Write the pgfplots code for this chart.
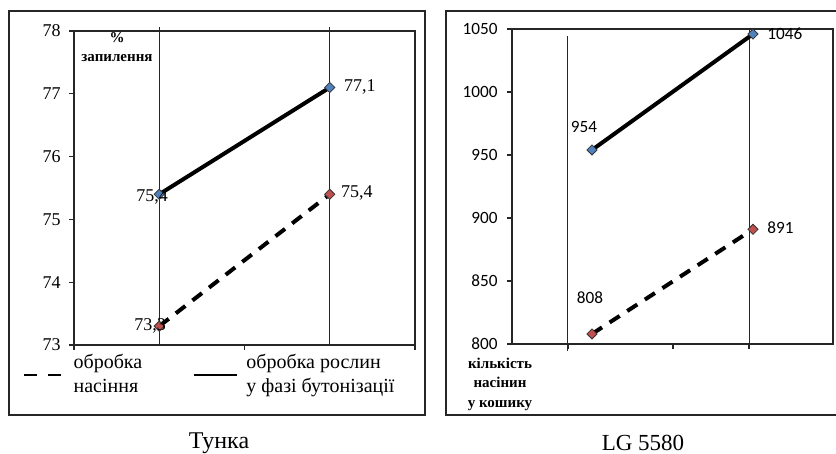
\documentclass[border=0pt]{standalone}
\usepackage{fontspec}
\setmainfont{Liberation Serif}
\newfontfamily\carlito{Carlito}
\usepackage{pgfplots}
\pgfplotsset{compat=1.18}

\definecolor{mblue}{HTML}{4F81BD}
\definecolor{mred}{HTML}{C0504D}
\definecolor{axgray}{HTML}{262626}

\pgfplotsset{
  myaxis/.style={
    scale only axis, anchor=south west, clip=false,
    tick pos=left, tick align=outside, major tick length=2.5pt,
    axis line style={axgray, line width=0.7pt},
    major tick style={axgray, line width=0.6pt},
    xticklabels={},
    /pgf/number format/assume math mode=true,
    /pgf/number format/1000 sep={},
  },
  lblT/.style n args={3}{draw=none, mark=none, forget plot, point meta=y,
    nodes near coords={\pgfmathprintnumber[fixed, fixed zerofill, precision=1, use comma]{\pgfplotspointmeta}},
    every node near coord/.append style={anchor=#1, xshift=#2pt, yshift=#3pt, inner sep=0pt, text=black, font=\fontsize{9}{10}\selectfont}},
  lblL/.style n args={3}{draw=none, mark=none, forget plot, point meta=y,
    nodes near coords={\pgfmathprintnumber[fixed, precision=0, 1000 sep={}]{\pgfplotspointmeta}},
    every node near coord/.append style={anchor=#1, xshift=#2pt, yshift=#3pt, inner sep=0pt, text=black, font=\carlito\fontsize{8.6}{10}\selectfont}},
  seedstyle/.style={black, line width=2pt, dash pattern=on 6pt off 4.5pt,
    mark=square*, mark size=1.8pt, forget plot,
    mark options={solid, rotate=45, fill=mred, draw=black!80, line width=0.4pt}},
  plantstyle/.style={black, line width=2pt, forget plot,
    mark=square*, mark size=1.8pt,
    mark options={solid, rotate=45, fill=mblue, draw=black!80, line width=0.4pt}},
}

\begin{document}
\begin{tikzpicture}
\useasboundingbox (0,0) rectangle (418pt,227pt);

% frames
\draw[axgray, line width=0.6pt] (4.5pt,19.5pt) rectangle (212.5pt,221.5pt);
\draw[axgray, line width=0.6pt] (223pt,19.5pt) rectangle (425pt,221.5pt);

% left panel: Тунка
\begin{axis}[myaxis,
  at={(37pt,54.5pt)}, width=170.5pt, height=157pt,
  xmin=0, xmax=2, ymin=73, ymax=78,
  xtick={0,1,2}, ytick={73,74,75,76,77,78},
  yticklabel style={font=\fontsize{9}{10}\selectfont, inner sep=0pt, xshift=-4pt},
  legend columns=2,
  legend style={at={(axis description cs:0,0)}, anchor=north west,
    xshift=-25.5pt, yshift=-2.5pt, draw=none, fill=none,
    inner sep=0pt, row sep=0pt,
    font=\fontsize{10}{12}\selectfont,
    cells={align=left, anchor=west, inner sep=0pt},
    /tikz/every odd column/.append style={column sep=2.5pt},
    /tikz/every even column/.append style={column sep=23.5pt}},
]
\draw[axgray, line width=0.5pt] (axis cs:0.5,73) -- (axis cs:0.5,78.06);
\draw[axgray, line width=0.5pt] (axis cs:1.5,73) -- (axis cs:1.5,78.06);
\addplot[seedstyle] coordinates {(0.5,73.3) (1.5,75.4)};
\addplot[plantstyle] coordinates {(0.5,75.4) (1.5,77.1)};
\addplot[lblT={east}{3.5}{0}] coordinates {(0.5,73.3)};
\addplot[lblT={west}{5.5}{0.5}] coordinates {(1.5,75.4)};
\addplot[lblT={east}{4.5}{-1.5}] coordinates {(0.5,75.4)};
\addplot[lblT={west}{7}{0.5}] coordinates {(1.5,77.1)};
\addlegendimage{legend image code/.code={\draw[black, line width=0.6pt, dash pattern=on 6.5pt off 5.5pt] (0pt,0pt) -- (20pt,0pt);}}
\addlegendentry{обробка\\насіння}
\addlegendimage{legend image code/.code={\draw[black, line width=0.6pt] (0pt,0pt) -- (21.5pt,0pt);}}
\addlegendentry{обробка рослин\\у фазі бутонізації}
\end{axis}

% right panel: LG 5580
\begin{axis}[myaxis,
  at={(256pt,55pt)}, width=160.5pt, height=157.5pt,
  xmin=0.5031, xmax=2.4969, ymin=800, ymax=1050,
  xtick={0.8509,1.5031,1.9752}, ytick={800,850,900,950,1000,1050},
  yticklabel style={font=\carlito\fontsize{8.6}{10}\selectfont, inner sep=0pt, xshift=-4.5pt},
]
\draw[axgray, line width=0.5pt] (axis cs:0.8509,794.4) -- (axis cs:0.8509,1044.4);
\draw[axgray, line width=0.5pt] (axis cs:1.9752,796) -- (axis cs:1.9752,1050);
\addplot[seedstyle] coordinates {(1,808) (2,891)};
\addplot[plantstyle] coordinates {(1,954) (2,1046)};
\addplot[lblL={center}{-1}{18}] coordinates {(1,808)};
\addplot[lblL={west}{7}{1}] coordinates {(2,891)};
\addplot[lblL={center}{-4}{11.5}] coordinates {(1,954)};
\addplot[lblL={west}{7}{0}] coordinates {(2,1046)};
\end{axis}

% texts
\node[align=center, font=\bfseries\fontsize{7.5}{9.5}\selectfont] at (58.5pt,203.25pt) {\%\\запилення};
\node[align=center, font=\bfseries\fontsize{7.5}{9.75}\selectfont] at (250pt,35pt) {кількість\\насінин\\у кошику};
\node[font=\fontsize{12}{14}\selectfont] at (109.5pt,5.5pt) {Тунка};
\node[font=\fontsize{11.5}{14}\selectfont] at (321.5pt,5.5pt) {LG 5580};
\end{tikzpicture}
\end{document}
